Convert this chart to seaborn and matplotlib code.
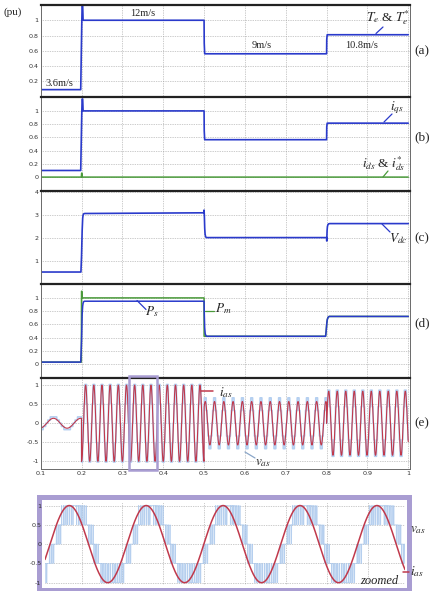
import numpy as np
import pandas as pd
import matplotlib
matplotlib.use("Agg")
import matplotlib.pyplot as plt
import seaborn as sns
from matplotlib.lines import Line2D
from matplotlib.patches import Rectangle

# ---------------- data ----------------
x_ticks = [0.1, 0.2, 0.3, 0.4, 0.5, 0.6, 0.7, 0.8, 0.9, 1.0]
x_ticklabels = ["0.1", "0.2", "0.3", "0.4", "0.5", "0.6", "0.7", "0.8", "0.9", "1"]

# (a) electromagnetic torque Te & Te*
t_te = [0.1, 0.198, 0.2005, 0.2015, 0.2028, 0.2038, 0.5, 0.5004, 0.5015, 0.8, 0.8004, 0.8015, 1.0]
te = [0.09, 0.09, 0.95, 1.19, 1.19, 1.0, 1.0, 0.7, 0.56, 0.56, 0.75, 0.81, 0.81]

# (b) q/d axis currents
t_iqs = [0.1, 0.198, 0.2005, 0.2015, 0.2028, 0.2038, 0.5, 0.5004, 0.5015, 0.8, 0.8004, 0.8015, 1.0]
iqs = [0.10, 0.10, 0.95, 1.18, 1.18, 1.0, 1.0, 0.7, 0.565, 0.565, 0.76, 0.815, 0.815]
t_ids = [0.1, 0.1995, 0.2002, 0.2008, 0.2014, 1.0]
ids = [0.0, 0.0, 0.06, 0.06, 0.0, 0.0]

# (c) DC-link voltage
t_vdc = [0.1, 0.1985, 0.2, 0.2015, 0.2028, 0.204, 0.2055, 0.208, 0.499, 0.5, 0.5008,
         0.5016, 0.5025, 0.5038, 0.5055, 0.8, 0.8004, 0.8012, 0.802, 0.8032, 0.805, 0.808, 1.0]
vdc = [0.5, 0.5, 1.2, 2.3, 2.85, 3.0, 3.04, 3.05, 3.08, 3.2, 2.9,
       2.4, 2.15, 2.04, 2.0, 2.0, 1.85, 2.3, 2.48, 2.56, 2.6, 2.61, 2.61]

# (d) stator power Ps and mechanical power Pm
t_ps = [0.1, 0.198, 0.2, 0.2015, 0.2028, 0.204, 0.2055, 0.2075, 0.5, 0.5006,
        0.5015, 0.5028, 0.5045, 0.5065, 0.7975, 0.799, 0.8005, 0.802, 0.804, 0.8065, 1.0]
ps = [0.03, 0.03, 0.35, 0.75, 0.88, 0.925, 0.945, 0.95, 0.95, 0.75,
      0.55, 0.46, 0.43, 0.42, 0.42, 0.5, 0.62, 0.68, 0.71, 0.72, 0.72]
t_pm = [0.1, 0.1995, 0.2, 0.2008, 0.2014, 0.5, 0.5001, 0.7975, 0.799, 0.8005, 0.802, 0.804, 0.8065, 1.0]
pm = [0.03, 0.03, 1.1, 1.1, 1.0, 1.0, 0.42, 0.42, 0.5, 0.62, 0.68, 0.71, 0.72, 0.72]

# (e) phase current / voltage, one entry per wind-speed segment
seg_start = [0.1, 0.2, 0.5, 0.8]
seg_end = [0.2, 0.5, 0.8, 1.0]
ias_amp = [0.13, 1.0, 0.57, 0.84]
ias_freq = [15.0, 50.0, 44.0, 48.0]
ias_phase = [-1.38, -1.5708, 0.785, 0.0]
vas_amp = [0.17, 1.0, 0.62, 0.86]
vdc_level = [0.5, 3.05, 2.0, 2.6]

# zoomed window of (e)
zoom_box = [0.315, 0.384]
zoom_window = [0.3037, 0.3973]
zoom_freq = 50.0
zoom_phase = -0.41
zoom_amp = 1.0
zoom_v_lag = 0.4
zoom_level_step = 0.5
zoom_carrier = 2200.0
zoom_grid_px = [81.5, 122.4, 163.2, 204.1, 245.0, 285.8, 326.6, 367.5]

y_ticks_a = [0.2, 0.4, 0.6, 0.8, 1]
y_ticks_b = [0, 0.2, 0.4, 0.6, 0.8, 1]
y_ticks_c = [1, 2, 3, 4]
y_ticks_d = [0, 0.2, 0.4, 0.6, 0.8, 1]
y_ticks_e = [-1, -0.5, 0, 0.5, 1]

# ---------------- style ----------------
sns.set_theme(style="white")
plt.rcParams["font.family"] = ["DejaVu Sans"]
plt.rcParams["mathtext.fontset"] = "stix"

BLUE = "#2a3acb"
GREEN = "#4a9a3a"
RED = "#c0394c"
LBLUE = "#a9c7ec"
PURPLE = "#a99dd2"
SERIF = ["Liberation Serif", "DejaVu Serif"]

W, H = 432, 591
fig = plt.figure(figsize=(W / 100, H / 100), dpi=100)


def px_rect(l, t, r, b):
    return [l / W, 1 - b / H, (r - l) / W, (b - t) / H]


def fx(x):
    return x / W


def fy(y):
    return 1 - y / H


def ftext(x, y, s, size=8, **kw):
    fig.text(fx(x), fy(y), s, fontsize=size, family=SERIF, ha="left", va="center", **kw)


def fline(x0, y0, x1, y1, color, lw=0.9):
    fig.add_artist(Line2D([fx(x0), fx(x1)], [fy(y0), fy(y1)], color=color, lw=lw,
                          transform=fig.transFigure))


def style_axis(ax, yticks, ylim, xlabels=False):
    ax.set_xlim(0.1, 1.003)
    ax.set_ylim(*ylim)
    ax.set_xticks(x_ticks)
    ax.set_xticklabels(x_ticklabels if xlabels else [])
    ax.set_yticks(yticks)
    ax.set_yticklabels([("%g" % v) for v in yticks])
    ax.grid(True, ls=(0, (1, 1.5)), lw=0.5, color="#9a9a9a")
    ax.tick_params(axis="both", direction="in", length=2, width=0.5, pad=1.5,
                   labelsize=4.6, labelcolor="#333333", colors="#555555")
    for s in ax.spines.values():
        s.set_color("#6a6a6a")
        s.set_linewidth(0.7)
    ax.spines["top"].set_color("#222222")
    ax.spines["top"].set_linewidth(1.6)
    ax.set_xlabel("")
    ax.set_ylabel("")
    leg = ax.get_legend()
    if leg is not None:
        leg.remove()


L, R = 40.7, 409.5
ax_a = fig.add_axes(px_rect(L, 5, R, 96.5))
ax_b = fig.add_axes(px_rect(L, 97, R, 191))
ax_c = fig.add_axes(px_rect(L, 191, R, 283.5))
ax_d = fig.add_axes(px_rect(L, 284, R, 378))
ax_e = fig.add_axes(px_rect(L, 377.5, R, 469))

# (a)
sns.lineplot(x=t_te, y=te, ax=ax_a, color=BLUE, lw=1.2, sort=False, estimator=None)
style_axis(ax_a, y_ticks_a, (0, 1.2))

# (b)
sns.lineplot(x=t_ids, y=ids, ax=ax_b, color=GREEN, lw=1.1, sort=False, estimator=None)
sns.lineplot(x=t_iqs, y=iqs, ax=ax_b, color=BLUE, lw=1.2, sort=False, estimator=None)
style_axis(ax_b, y_ticks_b, (-0.21, 1.21))

# (c)
sns.lineplot(x=t_vdc, y=vdc, ax=ax_c, color=BLUE, lw=1.2, sort=False, estimator=None)
style_axis(ax_c, y_ticks_c, (0, 4.03))

# (d)
sns.lineplot(x=t_pm, y=pm, ax=ax_d, color=GREEN, lw=1.1, sort=False, estimator=None)
sns.lineplot(x=t_ps, y=ps, ax=ax_d, color=BLUE, lw=1.1, sort=False, estimator=None)
style_axis(ax_d, y_ticks_d, (-0.21, 1.21))

# (e)
t_all, i_all, v_all = [], [], []
for s0, s1, ai, fi, ph, av, vd in zip(seg_start, seg_end, ias_amp, ias_freq, ias_phase, vas_amp, vdc_level):
    tt = np.arange(s0, s1, 5e-5)
    ii = ai * np.sin(2 * np.pi * fi * (tt - s0) + ph)
    step = vd / 6.0
    vv = step * np.round(av * np.sin(2 * np.pi * fi * (tt - s0) + ph) / step)
    t_all.append(tt)
    i_all.append(ii)
    v_all.append(vv)
df_e = pd.DataFrame({"t": np.concatenate(t_all), "i": np.concatenate(i_all), "v": np.concatenate(v_all)})
sns.lineplot(data=df_e, x="t", y="v", ax=ax_e, color="#b4cff0", lw=1.2, sort=False, estimator=None)
sns.lineplot(data=df_e, x="t", y="i", ax=ax_e, color=RED, lw=0.8, sort=False, estimator=None)
style_axis(ax_e, y_ticks_e, (-1.2, 1.2), xlabels=True)
ax_e.add_patch(Rectangle((zoom_box[0], -1.22), zoom_box[1] - zoom_box[0], 2.46, fill=False,
                         ec=PURPLE, lw=1.8, clip_on=False, zorder=5))

# zoomed panel
ax_f = fig.add_axes(px_rect(39, 497, 409, 590))
ax_f.set_xticks([])
ax_f.set_yticks([])
ax_f.set_facecolor("white")
for s in ax_f.spines.values():
    s.set_color(PURPLE)
    s.set_linewidth(3.6)
ZL, ZR = 45, 405
ax_z = fig.add_axes(px_rect(ZL, 501.7, ZR, 585))
ax_z.set_zorder(ax_f.get_zorder() + 1)
ax_z.patch.set_alpha(0)
tz = np.arange(zoom_window[0], zoom_window[1], 2e-6)
wz = 2 * np.pi * zoom_freq * (tz - zoom_window[0])
rz = zoom_amp * np.sin(wz + zoom_phase)
ref_v = zoom_amp * np.sin(wz + zoom_phase - zoom_v_lag)
kz = np.floor(ref_v / zoom_level_step)
frac = ref_v / zoom_level_step - kz
carrier = np.abs(((tz - zoom_window[0]) * zoom_carrier) % 1.0 * 2 - 1)
vz = zoom_level_step * (kz + (frac > carrier))
df_z = pd.DataFrame({"t": tz, "i": rz, "v": vz})
sns.lineplot(data=df_z, x="t", y="v", ax=ax_z, color=LBLUE, lw=0.55, alpha=0.85, sort=False, estimator=None)
sns.lineplot(data=df_z, x="t", y="i", ax=ax_z, color=RED, lw=1.1, sort=False, estimator=None)
ax_z.set_xlim(zoom_window)
ax_z.set_ylim(-1.06, 1.10)
ax_z.set_yticks(y_ticks_e)
ax_z.set_yticklabels([("%g" % v) for v in y_ticks_e])
span = zoom_window[1] - zoom_window[0]
ax_z.set_xticks([zoom_window[0] + (p - ZL) / (ZR - ZL) * span for p in zoom_grid_px])
ax_z.set_xticklabels([])
ax_z.grid(True, ls=(0, (1, 1.5)), lw=0.5, color="#9a9a9a")
ax_z.tick_params(axis="both", direction="in", length=0, pad=2.5, labelsize=4.6, labelcolor="#333333")
for s in ax_z.spines.values():
    s.set_visible(False)
ax_z.set_xlabel("")
ax_z.set_ylabel("")

# ---------------- annotations ----------------
ftext(4, 12, "(pu)", 8)
ftext(130, 13, "12m/s", 7.5)
ftext(45, 83, "3.6m/s", 7.5)
ftext(252, 46, "9m/s", 7.5)
ftext(345, 45, "10.8m/s", 7.5)
ftext(366, 18, r"$T_e$ & $T_e^{*}$", 9.5)
fline(376, 33.5, 383, 27, BLUE)
ftext(414, 51, "(a)", 9.5)

ftext(390, 108, r"$i_{qs}$", 9.5)
fline(384, 122, 392, 114, BLUE)
ftext(362, 164, r"$i_{ds}$ & $i_{ds}^{*}$", 9.5)
fline(383, 177, 388, 171, GREEN)
ftext(414, 137, "(b)", 9.5)

ftext(389, 239, r"$V_{dc}$", 9.5)
fline(382, 224, 390, 232, BLUE)
ftext(414, 238, "(c)", 9.5)

ftext(145, 312, r"$P_s$", 9.5)
fline(137, 300.5, 146, 309.5, BLUE)
ftext(215, 309, r"$P_m$", 9.5)
fline(204.5, 311, 214, 311, GREEN)
ftext(414, 323, "(d)", 9.5)

ftext(219, 393, r"$i_{as}$", 9.5)
fline(201, 391, 213, 391, RED, lw=1.1)
ftext(255, 463, r"$v_{as}$", 9.5)
fline(245, 452, 255, 458, "#8aa6c8")
ftext(414, 423, "(e)", 9.5)

ftext(410, 530, r"$v_{as}$", 9.5)
ftext(410, 572, r"$i_{as}$", 9.5)
fline(403, 572, 409, 572, RED, lw=1.1)
fig.text(fx(360), fy(581), "zoomed", fontsize=9, family=SERIF, style="italic", ha="left", va="center")

fig.savefig("out.png", dpi=100)
